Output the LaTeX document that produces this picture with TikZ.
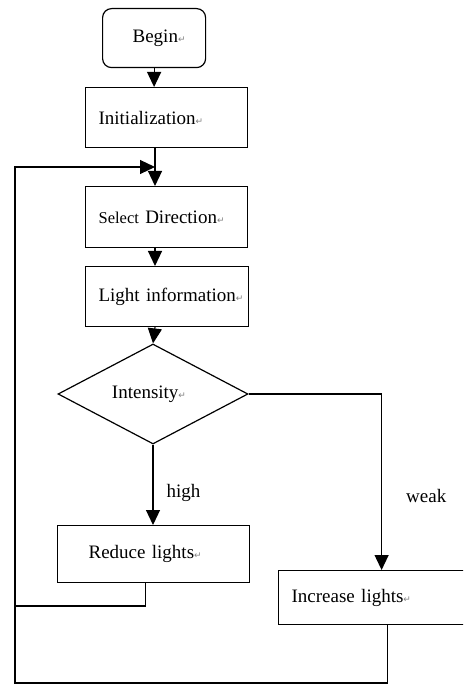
\documentclass[tikz,border=0pt]{standalone}
\usepackage{fontspec}
\setmainfont{Liberation Serif}
\newfontfamily\symfont{DejaVu Sans}
\usetikzlibrary{arrows.meta,shapes.geometric,calc}
% paragraph mark shown after each text
\newcommand\retmark{{\symfont\fontsize{9}{9}\selectfont\textcolor{gray}{↵}}}
\begin{document}
\begin{tikzpicture}[x=1pt,y=-1pt,
  every node/.style={font=\fontsize{19}{21}\selectfont},
  box/.style={draw, line width=1.2pt, inner xsep=13pt, inner ysep=0pt, align=left, anchor=north west},
  arr/.style={line width=1.2pt, -{Triangle[width=14pt,length=15pt]}},
  wire/.style={line width=1.1pt},
  lbl/.style={inner sep=0pt, anchor=west}]
\useasboundingbox (0,0) rectangle (463,684);
\clip (0,0) rectangle (463,684);

% process blocks
\node[draw, line width=1.2pt, rounded corners=9pt, minimum width=103pt, minimum height=59pt,
      inner sep=0pt, anchor=north west] (begin) at (102,8) {\hspace*{10pt}Begin\retmark};
\node[box, text width=136pt, minimum height=60pt] (init) at (85,87) {\mbox{Initialization\retmark}};
\node[box, text width=136pt, minimum height=61pt] (select) at (85,186)
  {\mbox{{\fontsize{16.5}{18}\selectfont Select} Direction\retmark}};
\node[box, text width=137pt, minimum height=60pt] (light) at (85,266) {\mbox{Light information\retmark}};
\node[draw, line width=1.2pt, diamond, minimum width=190pt, minimum height=100pt, inner sep=0pt]
  (intensity) at (153,394) {\hspace*{-8pt}Intensity\retmark};
\node[box, inner xsep=31pt, text width=130pt, minimum height=57pt] (reduce) at (57,525) {\mbox{Reduce lights\retmark}};
\node[box, text width=180pt, minimum height=54pt] (increase) at (278,570) {\mbox{Increase lights\retmark}};

% junction points of the feedback loop
\coordinate (col) at (155,0);
\coordinate (merge) at (155,167);
\coordinate (bl) at (15,683);
\coordinate (rjoin) at (15,606);

% main flow
\draw[arr] (begin.south) -- (init.north -| begin.south);
\draw[arr] (init.south -| col) -- (select.north -| col);
\draw[arr] (select.south -| col) -- (light.north -| col);
\draw[arr] (light.south -| col) -- (intensity.north);
\draw[arr] (intensity.south) -- node[lbl, pos=0.6, xshift=13pt] {high} (reduce.north -| intensity.south);
\draw[arr] (intensity.east) -| node[lbl, pos=0.79, xshift=24pt] {weak} (increase.north);

% feedback loop back to direction selection
\draw[wire, -{Triangle[width=14pt,length=15pt]}]
  ($(increase.south)+(6,0)$) |- (bl) -- (bl |- merge) -- (merge);
\draw[wire] ($(reduce.south)+(-8,0)$) |- (rjoin);
\end{tikzpicture}
\end{document}
